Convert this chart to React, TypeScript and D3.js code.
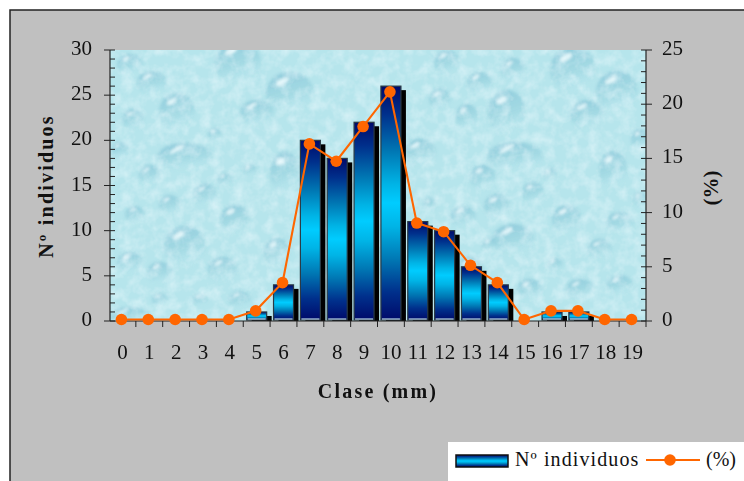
import * as d3 from "d3";

const classes = d3.range(0, 20).map(String);
const individuos = [0, 0, 0, 0, 0, 1, 4, 20, 18, 22, 26, 11, 10, 6, 4, 0, 1, 1, 0, 0];
const porcentaje = [0, 0, 0, 0, 0, 0.8, 3.4, 16.2, 14.6, 17.8, 21, 8.9, 8.1, 5, 3.4, 0, 0.8, 0.8, 0, 0];
const leftTicks = [0, 5, 10, 15, 20, 25, 30];
const rightTicks = [0, 5, 10, 15, 20, 25];

// water drops of the plot background: cx, cy, rx, ry (page pixels)
const drops = [
  [290, 93, 24, 21], [177, 112, 18, 19], [185, 157, 28, 14], [185, 247, 21, 21],
  [238, 63, 23, 22], [257, 113, 17, 13], [235, 220, 15, 15], [152, 83, 15, 12],
  [133, 120, 11, 11], [285, 173, 15, 21], [573, 70, 23, 23], [617, 92, 21, 21],
  [507, 113, 19, 23], [587, 115, 17, 15], [515, 157, 28, 15], [420, 153, 16, 14],
  [513, 240, 21, 16], [567, 220, 15, 15], [613, 170, 14, 19], [620, 223, 14, 11],
  [497, 207, 13, 13], [463, 217, 13, 11], [483, 178, 13, 13], [533, 193, 11, 11],
  [467, 117, 11, 13], [513, 70, 12, 12], [447, 63, 13, 13], [480, 83, 13, 11],
  [130, 263, 13, 11], [160, 273, 13, 11], [223, 270, 15, 13], [130, 316, 21, 9],
  [277, 253, 13, 15], [130, 65, 13, 11], [170, 205, 11, 10], [205, 195, 12, 11],
  [135, 215, 10, 9], [150, 175, 11, 10], [240, 300, 11, 9], [580, 290, 14, 11],
  [530, 290, 13, 11], [620, 285, 13, 10], [470, 270, 14, 13], [600, 250, 12, 11],
  [440, 100, 11, 11], [640, 140, 9, 11], [215, 135, 7, 7], [120, 150, 9, 8],
  [160, 300, 8, 7], [200, 300, 8, 6], [250, 170, 7, 6], [225, 180, 8, 7],
  [430, 205, 7, 7], [440, 240, 8, 7], [550, 175, 7, 7], [555, 265, 8, 7],
  [490, 245, 8, 7], [640, 200, 7, 8], [470, 300, 8, 6], [505, 295, 7, 6],
];

const serif = "'Liberation Serif', 'Times New Roman', serif";
const ink = "#222";
const orange = "#ff6600";

const left = 110;
const right = 646;
const top = 50;
const bottom = 321;
const barW = 20;

const x = d3.scaleBand().domain(classes).range([left - 1, right]);
const yL = d3.scaleLinear().domain([0, 30]).range([bottom, top]);
const yR = d3.scaleLinear().domain([0, 25]).range([bottom, top]);
const cx = (c: string) => (x(c) as number) + x.bandwidth() / 2;

const line = d3
  .line<number>()
  .x((_, i) => cx(classes[i]))
  .y((d) => yR(d));

const barStops = [
  [0, "#000a6a"], [0.12, "#00308c"], [0.28, "#0078b4"], [0.42, "#00b4e6"], [0.5, "#00ccff"],
  [0.6, "#00b4e6"], [0.74, "#0078b4"], [0.88, "#00308c"], [1, "#000a6a"],
] as const;

export default function App() {
  return (
    <svg
      width={744}
      height={481}
      style={{ position: "absolute", left: 0, top: 0, fontFamily: serif, background: "#fff" }}
    >
      <defs>
        <linearGradient id="bar" x1="0" y1="0" x2="0" y2="1">
          {barStops.map(([o, c]) => (
            <stop key={o} offset={o} stopColor={c} />
          ))}
        </linearGradient>
        <linearGradient id="drop" x1="0.3" y1="0" x2="0.6" y2="1">
          <stop offset="0" stopColor="#7fc0d4" stopOpacity={0.8} />
          <stop offset="0.55" stopColor="#93d0dd" stopOpacity={0.6} />
          <stop offset="1" stopColor="#c4eef4" stopOpacity={0.1} />
        </linearGradient>
        <filter id="mottle" x="0" y="0" width="100%" height="100%">
          <feTurbulence type="fractalNoise" baseFrequency="0.09" numOctaves={3} seed={4} />
          <feColorMatrix
            type="matrix"
            values="0 0 0 0 0.88  0 0 0 0 0.97  0 0 0 0 1  1.8 0 0 0 -0.65"
          />
        </filter>
        <filter id="soft">
          <feGaussianBlur stdDeviation="1.4" />
        </filter>
        <clipPath id="plot">
          <rect x={left} y={top} width={right - left} height={bottom - top} />
        </clipPath>
      </defs>

      <rect x={10} y={10} width={740} height={480} fill="#c0c0c0" stroke={ink} strokeWidth={1.5} />

      <g clipPath="url(#plot)">
        <rect x={left} y={top} width={right - left} height={bottom - top} fill="#b6e5ec" />
        <g filter="url(#soft)" opacity={0.85}>
          {drops.map(([a, b, rx, ry], i) => (
            <g key={i}>
              <ellipse cx={a} cy={b} rx={rx} ry={ry} fill="url(#drop)" />
              <ellipse
                cx={a - rx * 0.3}
                cy={b - ry * 0.55}
                rx={rx * 0.3}
                ry={Math.max(1.2, ry * 0.13)}
                fill="#f2fdff"
                opacity={0.9}
                transform={`rotate(-30 ${a - rx * 0.3} ${b - ry * 0.55})`}
              />
            </g>
          ))}
        </g>
        <rect x={left} y={top} width={right - left} height={bottom - top} filter="url(#mottle)" opacity={0.5} />
      </g>

      {/* bars */}
      {individuos.map((v, i) => {
        if (!v) return null;
        const bx = cx(classes[i]) - barW / 2;
        const by = yL(v);
        const h = bottom - by;
        const shadowTop = Math.min(by + 4, bottom - 3);
        return (
          <g key={classes[i]}>
            <rect x={bx + 5} y={shadowTop} width={barW} height={bottom - shadowTop} fill="#000" />
            <rect x={bx} y={by} width={barW} height={h - 1} fill="url(#bar)" stroke="#2a3a44" strokeWidth={1.2} />
            <line x1={bx + 1} x2={bx + barW - 1} y1={bottom - 2} y2={bottom - 2} stroke="#dff" strokeWidth={1} />
          </g>
        );
      })}

      {/* axes */}
      <g stroke={ink} fill="none">
        <line x1={left} x2={left} y1={top} y2={bottom} strokeWidth={1.2} />
        <line x1={right} x2={right} y1={top} y2={bottom} strokeWidth={1.2} />
        <line x1={left} x2={right} y1={bottom} y2={bottom} strokeWidth={1.2} />
        {d3.range(0, 31).map((t) => (
          <line key={t} x1={t % 5 ? left : left - 6} x2={left + 5} y1={yL(t)} y2={yL(t)} />
        ))}
        {d3.range(0, 26).map((t) => (
          <line key={t} x1={right - 5} x2={t % 5 ? right : right + 6} y1={yR(t)} y2={yR(t)} />
        ))}
        {classes.slice(1).map((c) => (
          <line key={c} x1={x(c)} x2={x(c)} y1={bottom} y2={bottom + 6} />
        ))}
        <line x1={right} x2={right} y1={bottom} y2={bottom + 6} />
      </g>

      {/* orange line, drawn slightly up and left of the bar centres as in the original */}
      <g transform="translate(-1,-1.5)">
        <path d={line(porcentaje) ?? ""} fill="none" stroke={orange} strokeWidth={2.1} />
        {porcentaje.map((v, i) => (
          <circle key={classes[i]} cx={cx(classes[i])} cy={yR(v)} r={5.8} fill={orange} />
        ))}
      </g>

      {/* tick labels */}
      <g fontSize={21} fill="#111">
        {leftTicks.map((t) => (
          <text key={t} x={92} y={yL(t) + 5} textAnchor="end">
            {t}
          </text>
        ))}
        {rightTicks.map((t) => (
          <text key={t} x={662} y={yR(t) + 5}>
            {t}
          </text>
        ))}
        {classes.map((c) => (
          <text key={c} x={cx(c)} y={359} textAnchor="middle">
            {c}
          </text>
        ))}
      </g>

      {/* titles */}
      <g fontSize={20} fontWeight="bold" fill="#111" letterSpacing={2.2}>
        <text x={378} y={398} textAnchor="middle">
          Clase (mm)
        </text>
        <text transform="translate(53,186) rotate(-90)" textAnchor="middle">
          Nº individuos
        </text>
        <text transform="translate(718,188) rotate(-90)" textAnchor="middle" fontSize={21} letterSpacing={0}>
          (%)
        </text>
      </g>

      {/* legend */}
      <rect x={448} y={442} width={296} height={39} fill="#fff" />
      <rect x={456} y={455} width={52} height={12} fill="url(#bar)" stroke="#111" strokeWidth={1.5} />
      <text x={515} y={466} fontSize={20} letterSpacing={1.1} fill="#111">
        Nº individuos
      </text>
      <line x1={646} x2={700} y1={460} y2={460} stroke={orange} strokeWidth={2.1} />
      <circle cx={670} cy={460} r={5.8} fill={orange} />
      <text x={706} y={466} fontSize={20} fill="#111">
        (%)
      </text>
    </svg>
  );
}
